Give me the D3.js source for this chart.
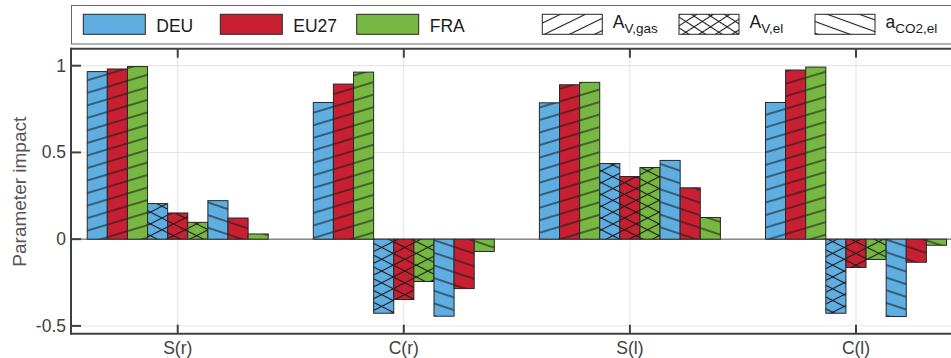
<!DOCTYPE html>
<html>
<head>
<meta charset="utf-8">
<script src="https://cdn.jsdelivr.net/npm/d3@7"></script>
<style>
  body { margin: 0; background: #fff; }
  svg { display: block; font-family: "Liberation Sans", Arial, sans-serif; }
</style>
</head>
<body>
<div id="chart"></div>
<script>
// categories on the x axis
const categories = ["S(r)", "C(r)", "S(l)", "C(l)"];
const regions = ["DEU", "EU27", "FRA"];
const region_colors = ["#5eaee2", "#c82032", "#77b843"];

// parameter impact, one array per region and parameter
const deu_AVgas = [0.966, 0.788, 0.786, 0.788];
const eu27_AVgas = [0.981, 0.894, 0.890, 0.975];
const fra_AVgas = [0.995, 0.963, 0.904, 0.992];
const deu_AVel = [0.205, -0.427, 0.436, -0.427];
const eu27_AVel = [0.151, -0.348, 0.361, -0.163];
const fra_AVel = [0.097, -0.244, 0.413, -0.117];
const deu_aCO2 = [0.222, -0.444, 0.454, -0.446];
const eu27_aCO2 = [0.122, -0.285, 0.296, -0.133];
const fra_aCO2 = [0.030, -0.071, 0.125, -0.035];

const y_ticks = [-0.5, 0, 0.5, 1];
const y_tick_labels = ["-0.5", "0", "0.5", "1"];

// 9 series in drawing order: param x region
const series = [
  {key: "DEU_gas", vals: deu_AVgas, color: 0, hatch: "gas"},
  {key: "EU27_gas", vals: eu27_AVgas, color: 1, hatch: "gas"},
  {key: "FRA_gas", vals: fra_AVgas, color: 2, hatch: "gas"},
  {key: "DEU_el", vals: deu_AVel, color: 0, hatch: "el"},
  {key: "EU27_el", vals: eu27_AVel, color: 1, hatch: "el"},
  {key: "FRA_el", vals: fra_AVel, color: 2, hatch: "el"},
  {key: "DEU_co2", vals: deu_aCO2, color: 0, hatch: "co2"},
  {key: "EU27_co2", vals: eu27_aCO2, color: 1, hatch: "co2"},
  {key: "FRA_co2", vals: fra_aCO2, color: 2, hatch: "co2"}
];

const W = 951, H = 358;
const ax_left = 71, ax_top = 48.7, ax_bottom = 333.7;

var svg = d3.select("#chart").append("svg")
  .attr("width", W)
  .attr("height", H);

var x = d3.scaleLinear().domain([0.528, 4.472]).range([ax_left, 962.7]);
var y = d3.scaleLinear().domain([-0.5, 1]).range([325.9, 65.7]);
var inner = d3.scaleBand().domain(series.map(d => d.key)).range([-90.5, 90.5]).padding(0);

var defs = svg.append("defs");

// hatch: horizontal line in a pattern tile, rotated
function hatch(id, angle, spacing) {
  var p = defs.append("pattern")
    .attr("id", id)
    .attr("patternUnits", "userSpaceOnUse")
    .attr("width", 10)
    .attr("height", spacing)
    .attr("patternTransform", "rotate(" + angle + ")");
  p.append("path")
    .attr("d", "M-1," + (spacing / 2) + "H11")
    .attr("stroke", "#1a1a1a")
    .attr("stroke-width", 1.1);
}
hatch("h_gas", -16.7, 12);
hatch("h_el1", -27, 10.5);
hatch("h_el2", 27, 10.5);
hatch("h_co2", 18.5, 12);
hatch("hl_gas", -26, 11);
hatch("hl_el1", -33, 9);
hatch("hl_el2", 33, 9);
hatch("hl_co2", 20, 11);

defs.append("clipPath").attr("id", "plotclip")
  .append("rect")
  .attr("x", ax_left).attr("y", ax_top)
  .attr("width", 962.7 - ax_left).attr("height", ax_bottom - ax_top);

var plot = svg.append("g").attr("clip-path", "url(#plotclip)");

// grid
plot.selectAll(".hgrid").data(y_ticks).enter().append("line")
  .attr("x1", ax_left).attr("x2", W)
  .attr("y1", d => y(d)).attr("y2", d => y(d))
  .attr("stroke", "#e3e3e3").attr("stroke-width", 1);
plot.selectAll(".vgrid").data(categories).enter().append("line")
  .attr("x1", (d, i) => x(i + 1)).attr("x2", (d, i) => x(i + 1))
  .attr("y1", ax_top).attr("y2", ax_bottom)
  .attr("stroke", "#e3e3e3").attr("stroke-width", 1);

// baseline
plot.append("line")
  .attr("x1", ax_left).attr("x2", W)
  .attr("y1", y(0)).attr("y2", y(0))
  .attr("stroke", "#555").attr("stroke-width", 1);

// bars
series.forEach(function (s) {
  var g = plot.append("g");
  var bx = (d, i) => x(i + 1) + inner(s.key);
  var by = d => Math.min(y(0), y(d));
  var bh = d => Math.abs(y(d) - y(0));
  g.selectAll(".bar").data(s.vals).enter().append("rect")
    .attr("x", bx).attr("y", by)
    .attr("width", inner.bandwidth()).attr("height", bh)
    .attr("fill", region_colors[s.color]);
  var fills = s.hatch === "el" ? ["url(#h_el1)", "url(#h_el2)"] : ["url(#h_" + s.hatch + ")"];
  fills.forEach(function (f) {
    g.selectAll(null).data(s.vals).enter().append("rect")
      .attr("x", bx).attr("y", by)
      .attr("width", inner.bandwidth()).attr("height", bh)
      .attr("fill", f);
  });
  g.selectAll(null).data(s.vals).enter().append("rect")
    .attr("x", bx).attr("y", by)
    .attr("width", inner.bandwidth()).attr("height", bh)
    .attr("fill", "none")
    .attr("stroke", "#262626").attr("stroke-width", 1);
});

// axes frame
var axc = "#404040";
svg.append("line").attr("x1", ax_left).attr("x2", W).attr("y1", ax_bottom).attr("y2", ax_bottom)
  .attr("stroke", axc).attr("stroke-width", 2);
svg.append("line").attr("x1", ax_left).attr("x2", W).attr("y1", ax_top).attr("y2", ax_top)
  .attr("stroke", axc).attr("stroke-width", 2);
svg.append("line").attr("x1", ax_left).attr("x2", ax_left).attr("y1", ax_top - 1).attr("y2", ax_bottom + 1)
  .attr("stroke", axc).attr("stroke-width", 2);

// ticks (inward)
svg.selectAll(".yt").data(y_ticks).enter().append("line")
  .attr("x1", ax_left).attr("x2", ax_left + 10)
  .attr("y1", d => y(d)).attr("y2", d => y(d))
  .attr("stroke", axc).attr("stroke-width", 2);
svg.selectAll(".xtb").data(categories).enter().append("line")
  .attr("x1", (d, i) => x(i + 1)).attr("x2", (d, i) => x(i + 1))
  .attr("y1", ax_bottom).attr("y2", ax_bottom - 9)
  .attr("stroke", axc).attr("stroke-width", 2);
svg.selectAll(".xtt").data(categories).enter().append("line")
  .attr("x1", (d, i) => x(i + 1)).attr("x2", (d, i) => x(i + 1))
  .attr("y1", ax_top).attr("y2", ax_top + 9)
  .attr("stroke", axc).attr("stroke-width", 2);

// tick labels
svg.selectAll(".ytl").data(y_ticks).enter().append("text")
  .attr("x", ax_left - 5)
  .attr("y", d => y(d) + 6)
  .attr("text-anchor", "end")
  .attr("font-size", "17.5px")
  .attr("fill", "#404040")
  .text((d, i) => y_tick_labels[i]);
svg.selectAll(".xtl").data(categories).enter().append("text")
  .attr("x", (d, i) => x(i + 1))
  .attr("y", 353.5)
  .attr("text-anchor", "middle")
  .attr("font-size", "17.5px")
  .attr("fill", "#404040")
  .text(d => d);

svg.append("text")
  .attr("transform", "translate(26,191.7) rotate(-90)")
  .attr("text-anchor", "middle")
  .attr("font-size", "19px")
  .attr("fill", "#555")
  .text("Parameter impact");

// legend
svg.append("rect")
  .attr("x", 71.5).attr("y", 5.5)
  .attr("width", 900).attr("height", 38.5)
  .attr("fill", "#fff")
  .attr("stroke", "#666").attr("stroke-width", 1);

var leg_x = [83.3, 220.3, 356.7];
regions.forEach(function (r, i) {
  svg.append("rect")
    .attr("x", leg_x[i]).attr("y", 14.3)
    .attr("width", 62).attr("height", 20)
    .attr("fill", region_colors[i])
    .attr("stroke", "#262626").attr("stroke-width", 1);
  svg.append("text")
    .attr("x", leg_x[i] + 73).attr("y", 31.7)
    .attr("font-size", "17.5px")
    .attr("fill", "#1a1a1a")
    .text(r);
});

var hatch_leg = [
  {x: 542.3, fills: ["url(#hl_gas)"], main: "A", sub: "V,gas"},
  {x: 679, fills: ["url(#hl_el1)", "url(#hl_el2)"], main: "A", sub: "V,el"},
  {x: 815, fills: ["url(#hl_co2)"], main: "a", sub: "CO2,el"}
];
hatch_leg.forEach(function (h) {
  svg.append("rect")
    .attr("x", h.x).attr("y", 14.3)
    .attr("width", 60).attr("height", 20)
    .attr("fill", "#fff");
  h.fills.forEach(function (f) {
    svg.append("rect")
      .attr("x", h.x).attr("y", 14.3)
      .attr("width", 60).attr("height", 20)
      .attr("fill", f);
  });
  svg.append("rect")
    .attr("x", h.x).attr("y", 14.3)
    .attr("width", 60).attr("height", 20)
    .attr("fill", "none")
    .attr("stroke", "#262626").attr("stroke-width", 1);
  var t = svg.append("text")
    .attr("x", h.x + 70.5).attr("y", 28.3)
    .attr("font-size", "17.5px")
    .attr("fill", "#1a1a1a");
  t.append("tspan").text(h.main);
  t.append("tspan").attr("dy", 4.5).attr("font-size", "13.5px").text(h.sub);
});
</script>
</body>
</html>
